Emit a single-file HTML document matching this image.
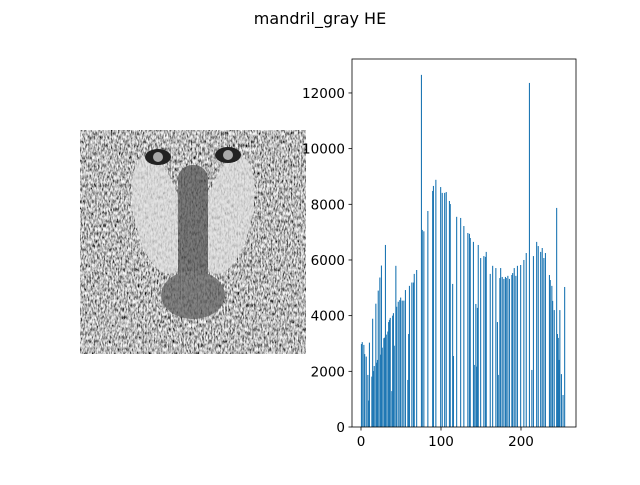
<!DOCTYPE html>
<html><head><meta charset="utf-8"><style>
body{margin:0;background:#fff;width:640px;height:480px;overflow:hidden;font-family:"Liberation Sans","DejaVu Sans",sans-serif}
</style></head><body>
<svg width="640" height="480" viewBox="0 0 640 480" font-family="DejaVu Sans, Liberation Sans, sans-serif">
<defs>
<filter id="fur" x="0" y="0" width="100%" height="100%">
<feTurbulence type="fractalNoise" baseFrequency="0.7 0.25" numOctaves="2" seed="3" result="n"/>
<feColorMatrix in="n" type="matrix" values="0 0 0 0 0.5  0 0 0 0 0.5  0 0 0 0 0.5  0 0 0 3 -1.2" result="g"/>
<feComponentTransfer in="n" result="c"><feFuncR type="linear" slope="3" intercept="-1"/><feFuncG type="linear" slope="3" intercept="-1"/><feFuncB type="linear" slope="3" intercept="-1"/><feFuncA type="linear" slope="0" intercept="1"/></feComponentTransfer>
<feColorMatrix in="c" type="saturate" values="0"/>
</filter>
<clipPath id="imgclip"><rect x="80" y="130" width="226" height="224"/></clipPath>
</defs>
<rect width="640" height="480" fill="#fff"/>
<text x="320" y="24" text-anchor="middle" font-size="16" fill="#000">mandril_gray HE</text>
<g clip-path="url(#imgclip)">
<rect x="80" y="130" width="226" height="224" fill="#888" filter="url(#fur)"/>
<g opacity="0.75">
<ellipse cx="158" cy="215" rx="24" ry="60" fill="#e0e0e0" transform="rotate(-12 158 215)"/>
<ellipse cx="228" cy="215" rx="24" ry="60" fill="#e0e0e0" transform="rotate(12 228 215)"/>
<rect x="178" y="165" width="30" height="130" rx="14" fill="#555"/>
<ellipse cx="193" cy="295" rx="32" ry="24" fill="#606060"/>
</g>
<ellipse cx="158" cy="157" rx="13" ry="8" fill="#222"/>
<ellipse cx="228" cy="155" rx="13" ry="8" fill="#222"/>
<circle cx="158" cy="157" r="5" fill="#aaa"/>
<circle cx="228" cy="155" r="5" fill="#aaa"/>
</g>
<g id="hist"></g>
</svg>
<script>
const bins = [0,1,3,4,6,8,9,10,13,14,15,16,18,19,20,21,23,24,25,26,28,29,30,31,33,34,35,36,38,39,40,41,43,44,46,48,49,51,53,55,58,59,60,63,65,66,69,75,76,78,83,89,90,93,99,101,104,106,110,111,114,115,119,124,128,133,135,136,140,141,143,144,145,146,149,153,155,156,161,164,168,170,171,173,174,176,178,180,181,183,185,188,189,191,193,195,199,203,206,210,213,215,219,221,224,226,228,230,235,236,238,239,241,244,245,246,247,248,250,252,254];
const counts = [2980,3050,2950,2620,2530,1870,950,3030,1810,3890,2010,2190,4430,2310,2410,4900,5370,2600,5800,2850,3190,3210,6540,3320,3430,3770,3850,3920,1290,4000,4090,2920,5790,4320,4500,4560,4650,4540,4540,4920,1690,3340,5070,5190,5190,5500,5640,12650,7080,7030,7760,8480,8660,8880,8620,8410,8410,8440,8120,8010,5140,2550,7550,7510,7220,6970,6940,6790,6650,2230,4420,2170,4280,6540,6070,6140,6110,6290,5500,5790,5710,3770,1870,5350,5710,5390,5320,5390,5350,5430,5320,5460,5530,5710,5430,5790,5820,6000,6250,12360,2050,6140,6650,6500,6290,6430,6070,6250,5460,5280,5070,4530,4200,7870,3340,3200,2410,4200,1900,1150,5030];
const yTicks = [0,2000,4000,6000,8000,10000,12000];
const xTicks = [0,100,200];
const NS='http://www.w3.org/2000/svg';
const g=document.getElementById('hist');
const L=352,R=576,T=59,B=427;
const xS=v=>L+(v+11.25)*(R-L)/280;
const yS=v=>B-v*(B-T)/13220;
function mk(t,a){const e=document.createElementNS(NS,t);for(const k in a)e.setAttribute(k,a[k]);g.appendChild(e);return e;}
bins.forEach((b,i)=>{
  const r=mk('rect',{x:xS(b)-0.1,y:yS(counts[i]),width:1.1,height:B-yS(counts[i]),fill:'#1f77b4'});
  
  
});
const fr=mk('rect',{x:L,y:T,width:R-L,height:B-T,fill:'none',stroke:'#000','stroke-width':0.8});


yTicks.forEach(v=>{
  const y=yS(v);
  const tk=mk('line',{x1:L-3.5,x2:L,y1:y,y2:y,stroke:'#000','stroke-width':0.8});
  
  
  const t=mk('text',{x:L-7,y:y+5,'text-anchor':'end','font-size':13.5,fill:'#000'});
  t.textContent=v;
  
  
});
xTicks.forEach(v=>{
  const x=xS(v);
  const tk=mk('line',{x1:x,x2:x,y1:B,y2:B+3.5,stroke:'#000','stroke-width':0.8});
  
  
  const t=mk('text',{x:x,y:B+19,'text-anchor':'middle','font-size':13.5,fill:'#000'});
  t.textContent=v;
  
  
});
</script>
</body></html>
